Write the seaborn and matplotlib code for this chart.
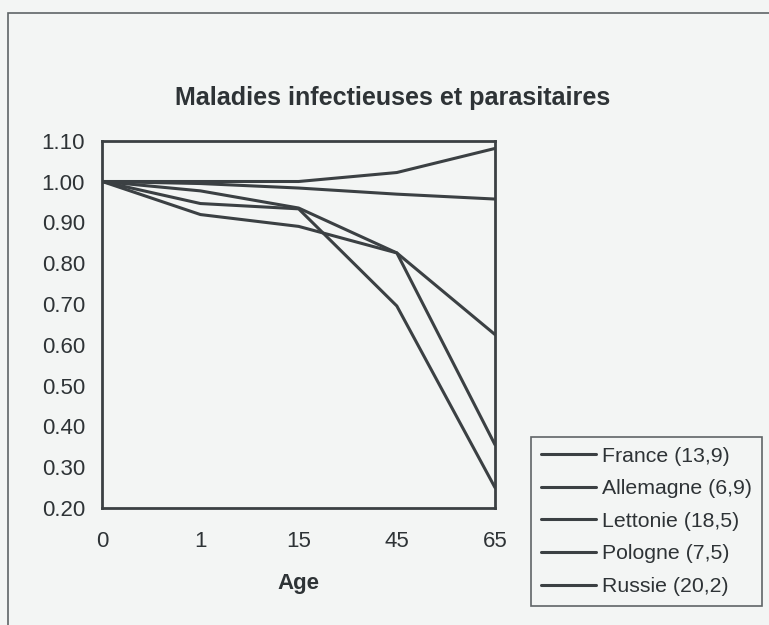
'''Maladies infectieuses et parasitaires : indices par age'''
import matplotlib
matplotlib.use('Agg')
import matplotlib.pyplot as plt
from matplotlib.patches import Rectangle
import pandas as pd
import seaborn as sns

ages = ['0', '1', '15', '45', '65']
france = [1.00, 0.977, 0.935, 0.825, 0.625]
allemagne = [1.00, 1.00, 1.00, 1.022, 1.081]
lettonie = [1.00, 0.946, 0.933, 0.695, 0.25]
pologne = [1.00, 0.919, 0.890, 0.825, 0.355]
russie = [1.00, 0.995, 0.984, 0.969, 0.957]
pays = ['France (13,9)', 'Allemagne (6,9)', 'Lettonie (18,5)',
        'Pologne (7,5)', 'Russie (20,2)']
yticks = [0.20, 0.30, 0.40, 0.50, 0.60, 0.70, 0.80, 0.90, 1.00, 1.10]

fond = '#f3f5f4'
gris = '#3b4043'
texte = '#2e3336'

sns.set_style('white')
plt.rcParams['font.family'] = ['Liberation Sans', 'DejaVu Sans']

df = pd.DataFrame({
    'Age': ages * 5,
    'valeur': france + allemagne + lettonie + pologne + russie,
    'pays': [p for p in pays for _ in ages],
})

fig = plt.figure(figsize=(7.69, 6.25), dpi=100, facecolor=fond)
ax = fig.add_axes([0.1330, 0.1872, 0.5107, 0.5877])
ax.set_facecolor(fond)

sns.lineplot(data=df, x='Age', y='valeur', hue='pays', hue_order=pays,
             palette=[gris] * 5, linewidth=2.2, sort=False, ax=ax)

ax.set_xlim(0, 4)
ax.set_ylim(0.20, 1.10)
ax.set_yticks(yticks)
ax.set_yticklabels(['%.2f' % v for v in yticks])
ax.tick_params(axis='both', direction='inout', length=9, width=1.2,
               colors=gris, labelsize=16, labelcolor=texte)
ax.tick_params(axis='y', pad=8)
ax.tick_params(axis='x', pad=12)
ax.set_xlabel('Age', fontsize=16, fontweight='bold', color=texte, labelpad=15)
ax.set_ylabel('')
for s in ax.spines.values():
    s.set_visible(True)
    s.set_color(gris)
    s.set_linewidth(2.0)

fig.text(0.511, 0.844, 'Maladies infectieuses et parasitaires', ha='center',
         va='center', fontsize=18.1, fontweight='bold', color=texte)

h, l = ax.get_legend_handles_labels()
leg = ax.legend(h, l, loc='upper left', bbox_to_anchor=(531 / 769, 1 - 437 / 625),
                bbox_transform=fig.transFigure, frameon=True, fancybox=False,
                fontsize=15.3, handlelength=2.6, handletextpad=0.3,
                labelspacing=0.64, borderpad=0.45, borderaxespad=0)
leg.get_frame().set_edgecolor(gris)
leg.get_frame().set_linewidth(1.2)
leg.get_frame().set_facecolor(fond)
for t in leg.get_texts():
    t.set_color(texte)

# cadre exterieur du graphique
fig.add_artist(Rectangle((8 / 769, -0.1), 1.2, 1.1 - 13 / 625,
                         transform=fig.transFigure, fill=False,
                         edgecolor='#5f6467', linewidth=1.2))

fig.savefig('out.png', dpi=100, facecolor=fond)
